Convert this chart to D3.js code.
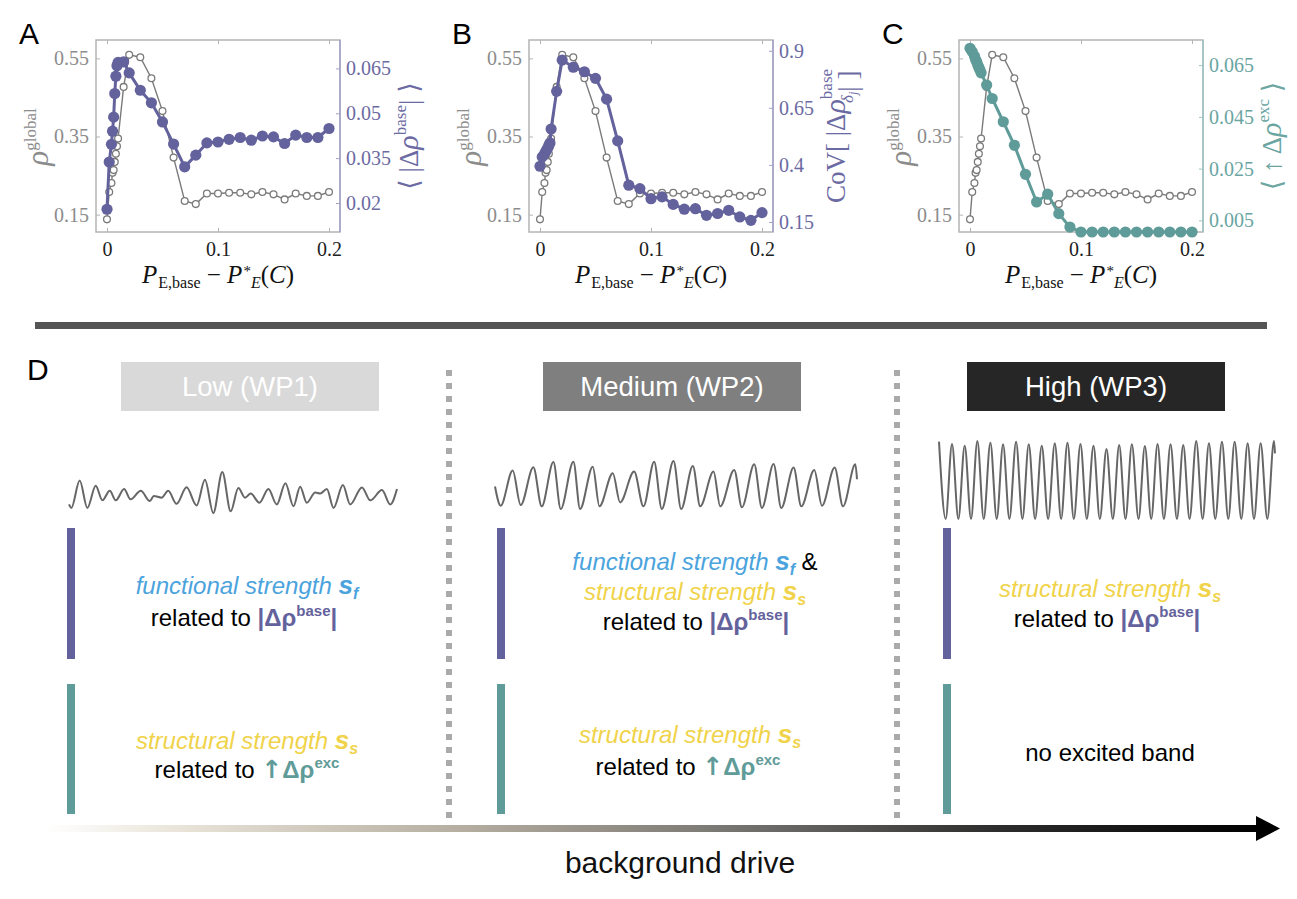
<!DOCTYPE html>
<html>
<head>
<meta charset="utf-8">
<script src="https://cdn.jsdelivr.net/npm/d3@7"></script>
<style>
  body { margin: 0; background: #fff; }
  svg { display: block; }
</style>
</head>
<body>
<script>
// drive offset P_E,base - P*_E(C)
var drive = [0, 0.002, 0.004, 0.005, 0.006, 0.007, 0.008, 0.009, 0.01, 0.015, 0.02, 0.03, 0.04, 0.05,
  0.06, 0.07, 0.08, 0.09, 0.1, 0.11, 0.12, 0.13, 0.14, 0.15, 0.16, 0.17, 0.18, 0.19, 0.2];
var rhoGlobal = [0.138, 0.208, 0.231, 0.257, 0.264, 0.285, 0.306, 0.325, 0.345, 0.477, 0.559, 0.553,
  0.499, 0.415, 0.296, 0.185, 0.177, 0.204, 0.204, 0.206, 0.206, 0.202, 0.208, 0.202, 0.189, 0.204,
  0.198, 0.198, 0.208];
var meanBase = [0.0179, 0.0337, 0.0396, 0.0440, 0.0487, 0.0566, 0.0624, 0.0659, 0.0670, 0.0672, 0.0635,
  0.0577, 0.0535, 0.0471, 0.0397, 0.0321, 0.0360, 0.0401, 0.0404, 0.0413, 0.0419, 0.0410, 0.0424,
  0.0421, 0.0399, 0.0427, 0.0419, 0.0419, 0.0449];
var covBase = [0.394, 0.435, 0.447, 0.457, 0.465, 0.474, 0.486, 0.496, 0.557, 0.722, 0.859, 0.828,
  0.808, 0.779, 0.688, 0.505, 0.311, 0.296, 0.252, 0.260, 0.227, 0.206, 0.208, 0.179, 0.187, 0.201,
  0.172, 0.157, 0.191];
var meanExc = [0.0715, 0.0702, 0.0685, 0.0672, 0.0663, 0.0650, 0.0641, 0.0631, 0.0620, 0.0573, 0.0521,
  0.0431, 0.0340, 0.0228, 0.0121, 0.0151, 0.0076, 0.0024, 0.0005, 0.0005, 0.0005, 0.0005, 0.0005,
  0.0005, 0.0005, 0.0005, 0.0005, 0.0005, 0.0005];

var xTicks = [0, 0.1, 0.2], xTickLabels = ["0", "0.1", "0.2"];
var rhoTicks = [0.15, 0.35, 0.55], rhoTickLabels = ["0.15", "0.35", "0.55"];
var baseTicks = [0.02, 0.035, 0.05, 0.065], baseTickLabels = ["0.02", "0.035", "0.05", "0.065"];
var covTicks = [0.15, 0.4, 0.65, 0.9], covTickLabels = ["0.15", "0.4", "0.65", "0.9"];
var excTicks = [0.005, 0.025, 0.045, 0.065], excTickLabels = ["0.005", "0.025", "0.045", "0.065"];

// example traces (extrema), time / activity
var lowT = [2.8, 3.5, 6, 8.3, 10.8, 12.8, 15, 16.8, 19.3, 21.2, 24.3, 27, 28.2, 30.5, 32.5, 35, 38, 41,
  43.5, 46, 48.7, 51.2, 53.5, 55.5, 57.2, 59.8, 62.5, 65, 67.6, 70, 72, 74, 76.5, 78, 80, 82, 84.8, 87,
  90.5, 93, 96.5, 99, 101];
var lowV = [6, 5, 13, 5, 11.5, 7.2, 10, 7.2, 10.5, 7.5, 10, 7, 8.5, 8, 10, 6.2, 11, 5.7, 13.2, 3.5, 15.5,
  4, 10.8, 8, 9.2, 6.5, 10.5, 6, 12.2, 5.5, 11.2, 6.5, 9.5, 9.2, 10.5, 5, 11.7, 6, 11, 7.2, 10.2, 6, 10.5];
var medT = [4.5, 6.2, 9.8, 12.2, 16, 18.5, 22, 24.2, 28, 30, 33.8, 35.8, 39.8, 42, 46.2, 49, 52.2, 54.5,
  58, 60.3, 63.8, 66, 70, 72, 76.2, 78.5, 82.2, 84.5, 88, 90.3, 94, 96.3, 100.2, 102.5, 106.3, 108.8,
  112.5, 113];
var medV = [11, 5.2, 15.8, 5.4, 16.8, 5, 18.4, 4.2, 18.5, 4.2, 17, 5, 15, 6.2, 15.5, 5, 18.5, 4.2, 18.7,
  4.2, 17.2, 5, 15.5, 5, 16, 4.7, 17.7, 4.5, 17.8, 4.5, 16.7, 5, 16, 5.2, 16.7, 5, 17.7, 13.2];
var highT = [5.8, 7.8, 9.7, 11.6, 13.5, 15.4, 17.3, 19.2, 21.2, 23.1, 25, 26.9, 28.9, 30.8, 32.7, 34.6,
  36.6, 38.5, 40.5, 42.4, 44.3, 46.2, 48.2, 50.1, 52.1, 54, 56, 57.9, 59.8, 61.7, 63.6, 65.6, 67.5, 69.4,
  71.3, 73.2, 75.2, 77.1, 79, 80.9, 82.9, 84.8, 86.7, 88.6, 90.6, 92.5, 94.4, 96.4, 98.3, 100.2, 102.2,
  104.2, 106.2, 106.5];
var highV = [23.5, 0.3, 22.8, 0.3, 22.3, 0.3, 23.7, 0.3, 23.2, 0.3, 22.7, 0.3, 23.5, 0.3, 22.7, 0.3,
  22.3, 0.3, 23, 0.3, 23.2, 0.3, 22.8, 0.3, 22.3, 0.3, 21.3, 0.3, 22.5, 0.3, 22.7, 0.3, 22.2, 0.3, 22.8,
  0.3, 22.7, 0.3, 22.5, 0.3, 23.7, 0.3, 23, 0.3, 23.5, 0.3, 23.5, 0.3, 23, 0.3, 23, 0.3, 23.7, 20];

var regimes = ["Low (WP1)", "Medium (WP2)", "High (WP3)"];

var C = {
  grey: "#7a7a7a", greyText: "#8c8c8c", frame: "#b4b4b4",
  purple: "#64629c", purpleText: "#6c6aa3", purpleAxis: "#a3a2c8",
  teal: "#5f9b98", tealText: "#6aa5a2", tealAxis: "#9cc4c2",
  blue: "#4ba3dd", yellow: "#f0d34a"
};
var SERIF = "'Liberation Serif', 'DejaVu Serif', serif";
var SANS = "'Liberation Sans', Arial, sans-serif";
var ARROW = "'DejaVu Sans', sans-serif";

var svg = d3.select("body").append("svg")
  .attr("width", 1297)
  .attr("height", 899);

// append a text made of styled runs; runs may be shifted up/down (sup/sub)
function richText(parent, x, y, runs, attrs) {
  var t = parent.append("text")
    .attr("x", x).attr("y", y)
    .attr("text-anchor", "middle");
  Object.keys(attrs || {}).forEach(function (k) { t.attr(k, attrs[k]); });
  var shift = 0;
  runs.forEach(function (r) {
    var s = t.append("tspan").text(r.t);
    var target = r.dy || 0;
    if (target !== shift) { s.attr("dy", target - shift); shift = target; }
    if (r.dx) s.attr("dx", r.dx);
    if (r.fill) s.attr("fill", r.fill);
    if (r.size) s.attr("font-size", r.size);
    if (r.font) s.attr("font-family", r.font);
    if (r.italic) s.attr("font-style", "italic");
    if (r.bold) s.attr("font-weight", "bold");
  });
  return t;
}

function styleAxis(g, color, textColor) {
  g.select(".domain").remove();
  g.selectAll(".tick line").attr("stroke", color).attr("stroke-width", 1);
  g.selectAll(".tick text")
    .attr("fill", textColor)
    .attr("font-family", SERIF)
    .attr("font-size", 20);
}

function drawPanel(p) {
  var top = 40, bottom = 232, w = 244;
  var g = svg.append("g");
  var x = d3.scaleLinear().domain([-0.0099, 0.2099]).range([p.left, p.left + w]);
  var yL = d3.scaleLinear().domain([0.1056, 0.597]).range([bottom, top]);
  var yR = d3.scaleLinear().domain(p.rDomain).range([bottom, top]);

  // frame
  g.append("rect")
    .attr("x", p.left).attr("y", top)
    .attr("width", w).attr("height", bottom - top)
    .attr("fill", "none")
    .attr("stroke", C.frame)
    .attr("stroke-width", 1.5);
  g.append("line")
    .attr("x1", p.left + w).attr("x2", p.left + w)
    .attr("y1", top).attr("y2", bottom)
    .attr("stroke", p.axisColor).attr("stroke-width", 1.5);

  var ax = g.append("g").attr("transform", "translate(0," + bottom + ")")
    .call(d3.axisBottom(x).tickValues(xTicks).tickSize(-4).tickPadding(10)
      .tickFormat(function (d, i) { return xTickLabels[i]; }));
  styleAxis(ax, C.frame, "#222");
  var axT = g.append("g").attr("transform", "translate(0," + top + ")")
    .call(d3.axisTop(x).tickValues(xTicks).tickSize(-4).tickFormat(""));
  styleAxis(axT, C.frame, "#222");
  var ayL = g.append("g").attr("transform", "translate(" + p.left + ",0)")
    .call(d3.axisLeft(yL).tickValues(rhoTicks).tickSize(-4).tickPadding(7)
      .tickFormat(function (d, i) { return rhoTickLabels[i]; }));
  styleAxis(ayL, C.frame, C.greyText);
  var ayR = g.append("g").attr("transform", "translate(" + (p.left + w) + ",0)")
    .call(d3.axisRight(yR).tickValues(p.rTicks).tickSize(-4).tickPadding(6)
      .tickFormat(function (d, i) { return p.rTickLabels[i]; }));
  styleAxis(ayR, p.axisColor, p.textColor);

  var idx = d3.range(drive.length);

  // grey rho_global series
  g.append("path")
    .datum(idx)
    .attr("fill", "none")
    .attr("stroke", C.grey)
    .attr("stroke-width", 1.4)
    .attr("d", d3.line()
      .x(function (i) { return x(drive[i]); })
      .y(function (i) { return yL(rhoGlobal[i]); }));
  g.selectAll("circle.open")
    .data(idx)
    .enter().append("circle")
    .attr("class", "open")
    .attr("cx", function (i) { return x(drive[i]); })
    .attr("cy", function (i) { return yL(rhoGlobal[i]); })
    .attr("r", 3.4)
    .attr("fill", "#fff")
    .attr("stroke", C.grey)
    .attr("stroke-width", 1.3);

  // coloured series on the right axis
  g.append("path")
    .datum(idx)
    .attr("fill", "none")
    .attr("stroke", p.color)
    .attr("stroke-width", 3)
    .attr("d", d3.line()
      .x(function (i) { return x(drive[i]); })
      .y(function (i) { return yR(p.values[i]); }));
  g.selectAll("circle.full")
    .data(idx)
    .enter().append("circle")
    .attr("class", "full")
    .attr("cx", function (i) { return x(drive[i]); })
    .attr("cy", function (i) { return yR(p.values[i]); })
    .attr("r", 5.6)
    .attr("fill", p.color);

  // panel letter
  g.append("text")
    .attr("x", p.left - 77).attr("y", 44)
    .attr("font-family", SANS).attr("font-size", 30)
    .text(p.letter);

  // x label
  var cx = p.left + 122;
  richText(g, cx, 283, [
    { t: "P", italic: true },
    { t: "E,base", size: 16, dy: 5, dx: 1 },
    { t: " \u2212 ", dy: 0 },
    { t: "P", italic: true },
    { t: "*", size: 15, dy: -7, dx: 1 },
    { t: "E", size: 16, italic: true, dy: 5 },
    { t: "(", dy: 0 },
    { t: "C", italic: true },
    { t: ")" }
  ], { "font-family": SERIF, "font-size": 25, fill: "#111" });

  // left y label
  var gl = g.append("g").attr("transform", "translate(" + (p.left - 48) + ",137) rotate(-90)");
  richText(gl, 0, 0, [
    { t: "\u03c1", italic: true, size: 31 },
    { t: "global", size: 17, dy: -12 }
  ], { "font-family": SERIF, "font-size": 28, fill: C.greyText });

  // right y label
  var gr = g.append("g").attr("transform", "translate(" + (p.left + w + p.rLabelDx) + ",136) rotate(-90)");
  richText(gr, 0, 0, p.rLabel, { "font-family": SERIF, "font-size": 27, fill: p.textColor });
}

drawPanel({
  letter: "A", left: 96, values: meanBase, rDomain: [0.0103, 0.0745],
  rTicks: baseTicks, rTickLabels: baseTickLabels,
  color: C.purple, textColor: C.purpleText, axisColor: C.purpleAxis, rLabelDx: 78,
  rLabel: [
    { t: "\u27e8 |\u0394" }, { t: "\u03c1", italic: true, size: 30 },
    { t: "base", size: 17, dy: -12 }, { t: "| \u27e9", dy: 0 }
  ]
});
drawPanel({
  letter: "B", left: 529, values: covBase, rDomain: [0.106, 0.947],
  rTicks: covTicks, rTickLabels: covTickLabels,
  color: C.purple, textColor: C.purpleText, axisColor: C.purpleAxis, rLabelDx: 72,
  rLabel: [
    { t: "CoV[ |\u0394" }, { t: "\u03c1", italic: true, size: 30 },
    { t: "base", size: 17, dy: -13 },
    { t: "\u03b4", size: 17, italic: true, dy: 8, dx: -34 },
    { t: "j", size: 12, italic: true, dy: 12 },
    { t: "", dy: 0, dx: 16 },
    { t: "| ]", dy: 0 }
  ]
});
drawPanel({
  letter: "C", left: 959, values: meanExc, rDomain: [0.0005, 0.0747],
  rTicks: excTicks, rTickLabels: excTickLabels,
  color: C.teal, textColor: C.tealText, axisColor: C.tealAxis, rLabelDx: 78,
  rLabel: [
    { t: "\u27e8 \u2191 \u0394" }, { t: "\u03c1", italic: true, size: 30 },
    { t: "exc", size: 17, dy: -12 }, { t: " \u27e9", dy: 0 }
  ]
});

// separator
svg.append("rect")
  .attr("x", 35).attr("y", 322)
  .attr("width", 1232).attr("height", 7)
  .attr("fill", "#555");

svg.append("text")
  .attr("x", 27).attr("y", 380)
  .attr("font-family", SANS).attr("font-size", 30)
  .text("D");

// regime columns
var cols = [
  { box: "#d9d9d9", boxX: 121, bar: 67, trace: [lowT, lowV], tx: [69, 397], ty: [513, 472] },
  { box: "#7f7f7f", boxX: 543, bar: 497, trace: [medT, medV], tx: [495, 857], ty: [509, 461] },
  { box: "#262626", boxX: 967, bar: 943, trace: [highT, highV], tx: [939, 1275], ty: [519, 441] }
];

cols.forEach(function (c, k) {
  svg.append("rect")
    .attr("x", c.boxX).attr("y", 362)
    .attr("width", 258).attr("height", 49)
    .attr("fill", c.box);
  svg.append("text")
    .attr("x", c.boxX + 129).attr("y", 396)
    .attr("text-anchor", "middle")
    .attr("font-family", SANS).attr("font-size", 27.5)
    .attr("fill", "#fff")
    .text(regimes[k]);

  var T = c.trace[0], V = c.trace[1];
  var tx = d3.scaleLinear().domain(d3.extent(T)).range(c.tx);
  var ty = d3.scaleLinear().domain(d3.extent(V)).range(c.ty);
  svg.append("path")
    .datum(d3.range(T.length))
    .attr("fill", "none")
    .attr("stroke", "#666")
    .attr("stroke-width", 2)
    .attr("d", d3.line().curve(d3.curveMonotoneX)
      .x(function (i) { return tx(T[i]); })
      .y(function (i) { return ty(V[i]); }));

  svg.append("rect").attr("x", c.bar).attr("y", 528)
    .attr("width", 8).attr("height", 131).attr("fill", C.purple);
  svg.append("rect").attr("x", c.bar).attr("y", 684)
    .attr("width", 8).attr("height", 130).attr("fill", C.teal);
});

// text runs
function funcRuns(tail) {
  var r = [
    { t: "functional strength ", italic: true, fill: C.blue },
    { t: "s", italic: true, bold: true, fill: C.blue, size: 26 },
    { t: "f", italic: true, bold: true, fill: C.blue, size: 16, dy: 5 }
  ];
  if (tail) r.push({ t: " &", dy: 0, fill: "#000" });
  return r;
}
var structRuns = [
  { t: "structural strength ", italic: true, fill: C.yellow },
  { t: "s", italic: true, bold: true, fill: C.yellow, size: 26 },
  { t: "s", italic: true, bold: true, fill: C.yellow, size: 16, dy: 5 }
];
var baseRuns = [
  { t: "related to  ", fill: "#000" },
  { t: "|\u0394\u03c1", bold: true, fill: C.purple },
  { t: "base", bold: true, fill: C.purple, size: 15, dy: -10 },
  { t: "|", bold: true, fill: C.purple, dy: 0 }
];
var excRuns = [
  { t: "related to ", fill: "#000" },
  { t: "\u2191", bold: true, fill: C.teal, font: ARROW, size: 25 },
  { t: "\u0394\u03c1", bold: true, fill: C.teal },
  { t: "exc", bold: true, fill: C.teal, size: 15, dy: -10 }
];

var bodyAttrs = { "font-family": SANS, "font-size": 24 };
richText(svg, 247, 594, funcRuns(false), bodyAttrs);
richText(svg, 244, 626, baseRuns, bodyAttrs);
richText(svg, 247, 749, structRuns, bodyAttrs);
richText(svg, 247, 778, excRuns, bodyAttrs);

richText(svg, 695, 570, funcRuns(true), bodyAttrs);
richText(svg, 695, 600, structRuns, bodyAttrs);
richText(svg, 696, 630, baseRuns, bodyAttrs);
richText(svg, 690, 743, structRuns, bodyAttrs);
richText(svg, 688, 775, excRuns, bodyAttrs);

richText(svg, 1110, 597, structRuns, bodyAttrs);
richText(svg, 1107, 627, baseRuns, bodyAttrs);
richText(svg, 1110, 761, [{ t: "no excited band", fill: "#000" }], bodyAttrs);

// dotted separators
[449, 897].forEach(function (x) {
  svg.append("line")
    .attr("x1", x).attr("x2", x)
    .attr("y1", 370).attr("y2", 834)
    .attr("stroke", "#aaa")
    .attr("stroke-width", 6)
    .attr("stroke-dasharray", "6,7");
});

// background drive arrow
var grad = svg.append("defs").append("linearGradient")
  .attr("id", "drive")
  .attr("gradientUnits", "userSpaceOnUse")
  .attr("x1", 45).attr("x2", 1258).attr("y1", 0).attr("y2", 0);
[[0, "#ffffff"], [0.12, "#e7e2d6"], [0.35, "#b3ac9f"], [0.55, "#7c7a75"], [0.78, "#2e2e2e"], [1, "#000"]]
  .forEach(function (s) { grad.append("stop").attr("offset", s[0]).attr("stop-color", s[1]); });
svg.append("rect")
  .attr("x", 45).attr("y", 825)
  .attr("width", 1215).attr("height", 7)
  .attr("fill", "url(#drive)");
svg.append("path")
  .attr("d", "M1256,816 L1280,828.5 L1256,841 Z")
  .attr("fill", "#000");
svg.append("text")
  .attr("x", 680).attr("y", 873)
  .attr("text-anchor", "middle")
  .attr("font-family", SANS).attr("font-size", 30)
  .attr("fill", "#111")
  .text("background drive");
</script>
</body>
</html>
